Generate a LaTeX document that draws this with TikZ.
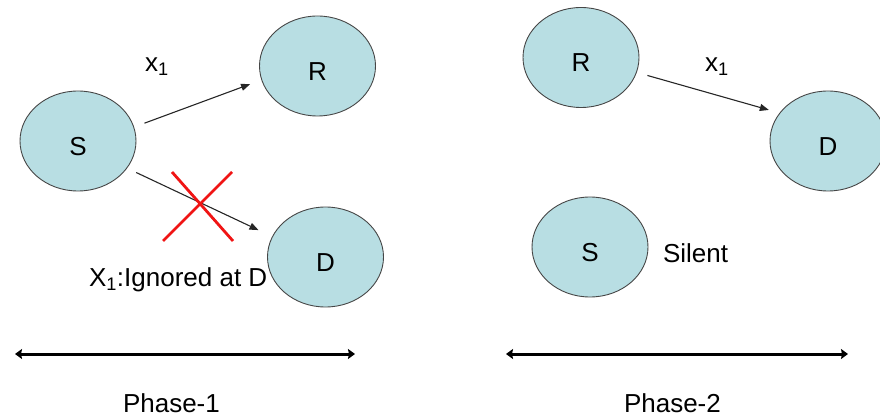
\documentclass[tikz,border=0pt]{standalone}
\usepackage{fontspec}
\setmainfont{Liberation Sans}
\usetikzlibrary{arrows.meta,shapes.geometric}
\definecolor{nodefill}{RGB}{184,222,227}
\definecolor{nodeline}{RGB}{70,70,70}
\definecolor{crossred}{RGB}{240,20,20}
\tikzset{
  nd/.style={ellipse, draw=nodeline, line width=0.9pt, fill=nodefill,
    minimum width=116pt, minimum height=100pt, inner sep=0pt,
    text height=29pt, text depth=0pt},
  msg/.style={draw=black!85, line width=1.1pt, -{Triangle[length=9pt,width=7pt]}},
  phasearrow/.style={draw=black, line width=3pt,
    {Stealth[length=7pt,width=10pt,inset=1pt]}-{Stealth[length=7pt,width=10pt,inset=1pt]}},
  cross/.style={draw=crossred, line width=2.8pt},
  txt/.style={inner sep=0pt, outer sep=0pt}
}
\begin{document}
\begin{tikzpicture}[x=1pt,y=-1pt,font=\fontsize{26}{30}\selectfont]
\useasboundingbox (0,0) rectangle (880,419);
% Phase 1
\node[nd] (S1) at (78,141) {S};
\node[nd] (R1) at (317.5,66) {R};
\node[nd] (D1) at (325.5,257) {D};
\draw[msg, shorten <=11pt, shorten >=12pt] (S1.14) -- (R1.194);
\draw[msg, shorten <=10pt, shorten >=15pt] (S1.-29) -- (D1.159);
\node[txt] (x1a) at (157,67) {x\textsubscript{1}};
\node[txt, anchor=base west] (ign) at (89,287) {X\textsubscript{1}:Ignored at D};
\coordinate (c1a) at (172,172);
\coordinate (c1b) at (233,241);
\coordinate (c2a) at (232,172);
\coordinate (c2b) at (163,241);
\draw[cross] (c1a) -- (c1b);
\draw[cross] (c2a) -- (c2b);
% Phase 2
\node[nd] (R2) at (581,57.5) {R};
\node[nd] (D2) at (828,141) {D};
\node[nd] (S2) at (590,247) {S};
\draw[msg, shorten <=11pt, shorten >=11pt] (R2.-15) -- (D2.150);
\node[txt] (x1b) at (717,67) {x\textsubscript{1}};
\node[txt, anchor=base west] (sil) at (663,263) {Silent};
% Phase bars
\coordinate (p1l) at (15,354);
\coordinate (p1r) at (355,354);
\coordinate (p2l) at (506,354);
\coordinate (p2r) at (848,354);
\draw[phasearrow] (p1l) -- (p1r);
\draw[phasearrow] (p2l) -- (p2r);
\node[txt, anchor=base west] (ph1) at (123,412) {Phase-1};
\node[txt, anchor=base west] (ph2) at (624,412) {Phase-2};
\end{tikzpicture}
\end{document}
